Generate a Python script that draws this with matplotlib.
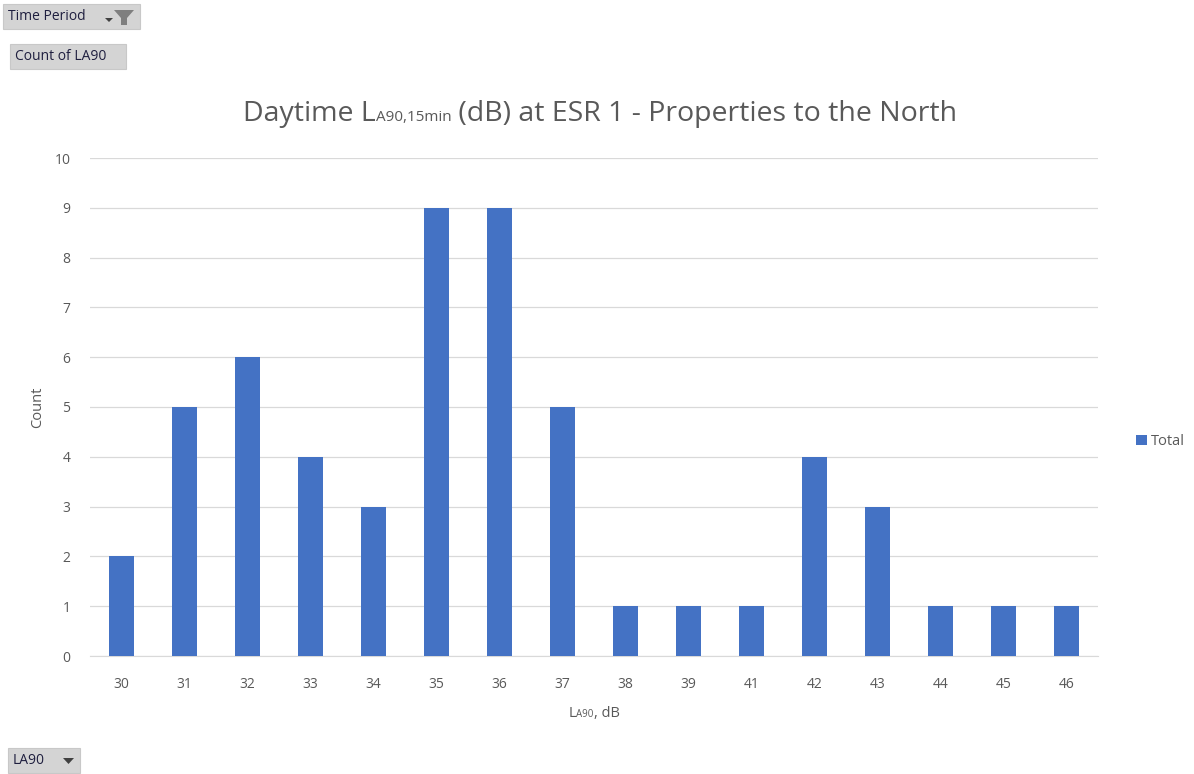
import matplotlib.pyplot as plt
from matplotlib.patches import Polygon, Rectangle

# データ
levels = ['30', '31', '32', '33', '34', '35', '36', '37', '38', '39', '41', '42', '43', '44', '45', '46']
counts = [2, 5, 6, 4, 3, 9, 9, 5, 1, 1, 1, 4, 3, 1, 1, 1]
y_ticks = list(range(0, 11))

W, H = 1194, 774
bar_color = '#4472C4'
text_color = '#595959'
grid_color = '#D9D9D9'
font = 'Open Sans'
plt.rcParams['font.family'] = [font, 'DejaVu Sans']

fig = plt.figure(figsize=(W / 100, H / 100), dpi=100)
ax = fig.add_axes([90 / W, 1 - 656 / H, (1098 - 90) / W, (656 - 158) / H])

x = list(range(len(levels)))
ax.bar(x, counts, width=0.4, color=bar_color, zorder=3, label='Total')
ax.set_xlim(-0.5, len(levels) - 0.5)
ax.set_ylim(0, 10)
ax.set_yticks(y_ticks)
ax.set_xticks(x)
ax.set_xticklabels(levels)
ax.tick_params(axis='both', length=0, labelsize=10, labelcolor=text_color)
ax.tick_params(axis='x', pad=15)
ax.tick_params(axis='y', pad=14)
ax.grid(axis='y', color=grid_color, linewidth=0.9, zorder=0)
for side in ['top', 'right', 'left']:
    ax.spines[side].set_visible(False)
ax.spines['bottom'].set_color(grid_color)
ax.set_ylabel('Count', color=text_color, fontsize=10.5, labelpad=7)

# 凡例
ax.legend(loc='center left', bbox_to_anchor=(1.025, 0.43), frameon=False, fontsize=10.5,
          labelcolor=text_color, handlelength=0.7, handleheight=0.7, handletextpad=0.3)

# テキストを順に並べる補助
renderer = fig.canvas.get_renderer()


def chain(parts, x0, y0, color, center=True):
    objs = []
    xpos = x0
    for s, size in parts:
        t = fig.text(xpos / W, y0 / H, s, fontsize=size, color=color, va='baseline', ha='left')
        bb = t.get_window_extent(renderer)
        xpos = bb.x1
        objs.append(t)
    if center:
        total = xpos - x0
        shift = total / 2
        for t in objs:
            px, py = t.get_position()
            t.set_position((px - shift / W, py))
    return objs


# タイトル
chain([('Daytime L', 20.5), ('A90,15min', 11), (' (dB) at ESR 1 - Properties to the North', 20.5)],
      600, H - 121, text_color)

# x軸ラベル
chain([('L', 10.5), ('A90', 7), (', dB', 10.5)], 594, H - 717, text_color)


# ピボットボタン
def button(x0, y0, x1, y1, label, size=10):
    fig.patches.append(Rectangle((x0 / W, 1 - y1 / H), (x1 - x0) / W, (y1 - y0) / H,
                                 transform=fig.transFigure, facecolor='#D4D4D4',
                                 edgecolor='#C8C8C8', linewidth=0.8))
    fig.text((x0 + 5) / W, 1 - (y0 + y1) / 2 / H, label, fontsize=size, color='#1F1F3F',
             va='center', ha='left')


button(3, 4, 140, 29, 'Time Period')
button(10, 44, 126, 69, 'Count of LA90')
button(8, 748, 80, 773, 'LA90')

# フィルターアイコン
funnel = [(114, 10), (134, 10), (127, 18), (127, 25), (121, 25), (121, 18)]
fig.patches.append(Polygon([(px / W, 1 - py / H) for px, py in funnel], closed=True,
                           transform=fig.transFigure, facecolor='#7F7F7F', edgecolor='none'))
for tri in ([(105, 18), (113, 18), (109, 22)], [(63, 758), (74, 758), (68.5, 764)]):
    fig.patches.append(Polygon([(px / W, 1 - py / H) for px, py in tri], closed=True,
                               transform=fig.transFigure, facecolor='#404040', edgecolor='none'))

fig.savefig('out.png', dpi=100, facecolor='white')
